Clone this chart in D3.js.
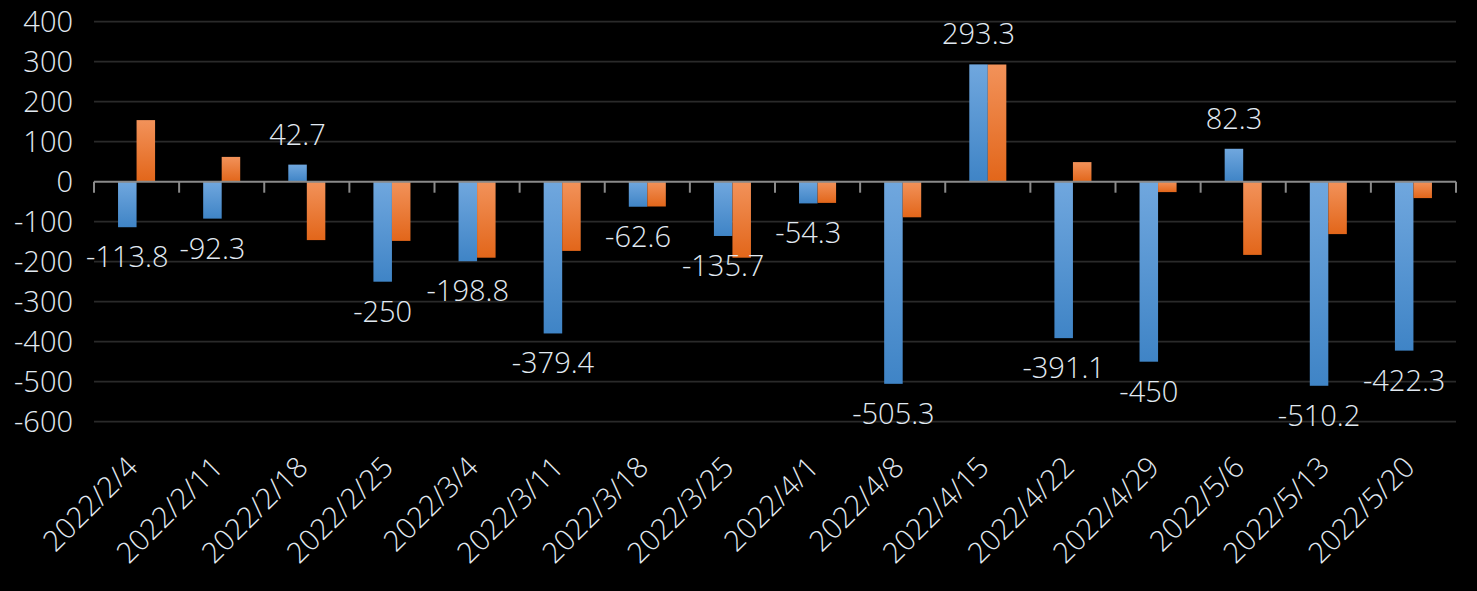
<!DOCTYPE html>
<html>
<head>
<meta charset="utf-8">
<script src="https://cdn.jsdelivr.net/npm/d3@7"></script>
<style>
  html, body { margin: 0; padding: 0; background: #000; }
  svg { display: block; }
</style>
</head>
<body>
<svg id="chart" width="1477" height="591"></svg>
<script>
const categories = ["2022/2/4","2022/2/11","2022/2/18","2022/2/25","2022/3/4","2022/3/11","2022/3/18","2022/3/25","2022/4/1","2022/4/8","2022/4/15","2022/4/22","2022/4/29","2022/5/6","2022/5/13","2022/5/20"];
const seriesBlue = [-113.8, -92.3, 42.7, -250, -198.8, -379.4, -62.6, -135.7, -54.3, -505.3, 293.3, -391.1, -450, 82.3, -510.2, -422.3];
const seriesOrange = [154, 62, -146, -148, -190, -173, -62, -190, -53, -89, 293, 49, -26, -183, -131, -41];
const yTicks = [400, 300, 200, 100, 0, -100, -200, -300, -400, -500, -600];

const W = 1477, H = 591;
const plotLeft = 94, plotRight = 1456, plotTop = 21.7, plotBottom = 421.7;
const FONT = "'Open Sans', 'Noto Sans', sans-serif";
const WEIGHT = 300;
const TEXT = "#e2eaf2";

const svg = d3.select("#chart");
svg.append("rect").attr("width", W).attr("height", H).attr("fill", "#000");

const defs = svg.append("defs");
function grad(id, c1, c2) {
  const g = defs.append("linearGradient").attr("id", id)
    .attr("x1", 0).attr("y1", 0).attr("x2", 0).attr("y2", 1);
  g.append("stop").attr("offset", "0%").attr("stop-color", c1);
  g.append("stop").attr("offset", "100%").attr("stop-color", c2);
}
grad("gBlue", "#70a7de", "#3f84c6");
grad("gOrange", "#f2925a", "#e2661a");

const y = d3.scaleLinear().domain([-600, 400]).range([plotBottom, plotTop]);
const x0 = d3.scaleBand().domain(categories).range([plotLeft, plotRight])
  .paddingInner(0.565).paddingOuter(0.2825);
const x1 = d3.scaleBand().domain(["blue", "orange"]).range([0, x0.bandwidth()]);

// gridlines
svg.append("g").selectAll("line").data(yTicks.filter(d => d !== 0)).join("line")
  .attr("x1", plotLeft).attr("x2", plotRight)
  .attr("y1", d => y(d)).attr("y2", d => y(d))
  .attr("stroke", "#2a2a2a").attr("stroke-width", 1.8);

// y axis labels
svg.append("g").selectAll("text").data(yTicks).join("text")
  .attr("x", 73).attr("y", d => y(d))
  .attr("dy", "0.35em")
  .attr("text-anchor", "end")
  .attr("font-family", FONT).attr("font-size", 29).attr("font-weight", WEIGHT)
  .attr("fill", TEXT)
  .text(d => d);

// bars
const data = categories.map((c, i) => ({ c, blue: seriesBlue[i], orange: seriesOrange[i] }));
const groups = svg.append("g").selectAll("g").data(data).join("g")
  .attr("transform", d => `translate(${x0(d.c)},0)`);
groups.selectAll("rect").data(d => [
  { k: "blue", v: d.blue }, { k: "orange", v: d.orange }
]).join("rect")
  .attr("x", d => x1(d.k))
  .attr("width", x1.bandwidth())
  .attr("y", d => y(Math.max(0, d.v)))
  .attr("height", d => Math.abs(y(d.v) - y(0)))
  .attr("fill", d => d.k === "blue" ? "url(#gBlue)" : "url(#gOrange)");

// zero axis with category tick marks
const step = x0.step();
const bounds = d3.range(categories.length + 1).map(i => plotLeft + i * step);
svg.append("line").attr("x1", plotLeft).attr("x2", plotRight)
  .attr("y1", y(0)).attr("y2", y(0))
  .attr("stroke", "#8a8a8a").attr("stroke-width", 2);
svg.append("g").selectAll("line").data(bounds).join("line")
  .attr("x1", d => d).attr("x2", d => d)
  .attr("y1", y(0)).attr("y2", y(0) + 11)
  .attr("stroke", "#8a8a8a").attr("stroke-width", 2);

// data labels on blue series
svg.append("g").selectAll("text").data(data).join("text")
  .attr("x", d => x0(d.c) + x1("blue") + x1.bandwidth() / 2)
  .attr("y", d => d.blue >= 0 ? y(d.blue) - 20 : y(d.blue) + 40)
  .attr("text-anchor", "middle")
  .attr("font-family", FONT).attr("font-size", 29).attr("font-weight", WEIGHT)
  .attr("fill", TEXT)
  .text(d => d.blue);

// x labels rotated
svg.append("g").selectAll("text").data(categories).join("text")
  .attr("transform", d => `translate(${x0(d) + x0.bandwidth() / 2 + 3},469) rotate(-45)`)
  .attr("text-anchor", "end")
  .attr("font-family", FONT).attr("font-size", 29).attr("font-weight", WEIGHT)
  .attr("fill", TEXT)
  .text(d => d);
</script>
</body>
</html>
